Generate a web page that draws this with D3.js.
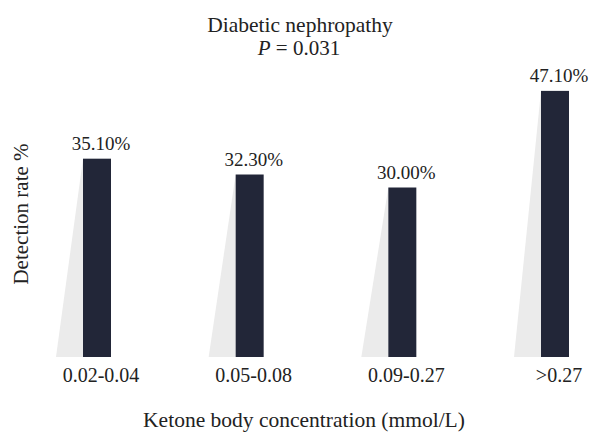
<!DOCTYPE html>
<html>
<head>
<meta charset="utf-8">
<script src="https://cdn.jsdelivr.net/npm/d3@7"></script>
<style>
  body { margin: 0; background: #fff; }
  text { font-family: "Liberation Serif", "Times New Roman", serif; fill: #222; }
</style>
</head>
<body>
<div id="chart"></div>
<script>
const categories = ["0.02-0.04", "0.05-0.08", "0.09-0.27", ">0.27"]
const rates = [35.1, 32.3, 30.0, 47.1]
const labels = ["35.10%", "32.30%", "30.00%", "47.10%"]

const width = 591
const height = 434
const base = 357

const svg = d3.select("#chart")
    .append("svg")
    .attr("width", width)
    .attr("height", height)

const x = d3.scalePoint()
    .domain(categories)
    .range([97, 555])

const y = d3.scaleLinear()
    .domain([0, 50])
    .range([base, base - 50 * 5.65])

const barW = 28
const shadowW = 27

// light grey wedge on the left of each bar
svg.selectAll("path.shadow")
    .data(categories)
    .join("path")
    .attr("class", "shadow")
    .attr("fill", "#ebebeb")
    .attr("d", (d, i) => {
        const left = x(d) - barW / 2
        return `M${left},${y(rates[i])}L${left},${base}L${left - shadowW},${base}Z`
    })

svg.selectAll("rect.bar")
    .data(categories)
    .join("rect")
    .attr("class", "bar")
    .attr("x", d => x(d) - barW / 2)
    .attr("y", (d, i) => y(rates[i]))
    .attr("width", barW)
    .attr("height", (d, i) => base - y(rates[i]))
    .attr("fill", "#222638")

svg.selectAll("text.val")
    .data(categories)
    .join("text")
    .attr("class", "val")
    .attr("x", d => x(d) + 4)
    .attr("y", (d, i) => y(rates[i]) - 9)
    .attr("text-anchor", "middle")
    .style("font-size", "19px")
    .text((d, i) => labels[i])

svg.selectAll("text.cat")
    .data(categories)
    .join("text")
    .attr("class", "cat")
    .attr("x", d => x(d) + 4)
    .attr("y", 382)
    .attr("text-anchor", "middle")
    .style("font-size", "20px")
    .text(d => d)

svg.append("text")
    .attr("x", 300)
    .attr("y", 32)
    .attr("text-anchor", "middle")
    .style("font-size", "21.5px")
    .text("Diabetic nephropathy")

const p = svg.append("text")
    .attr("x", 299)
    .attr("y", 55)
    .attr("text-anchor", "middle")
    .style("font-size", "21px")
p.append("tspan").style("font-style", "italic").text("P")
p.append("tspan").text(" = 0.031")

svg.append("text")
    .attr("transform", "translate(28,214) rotate(-90)")
    .attr("text-anchor", "middle")
    .style("font-size", "21px")
    .text("Detection rate %")

svg.append("text")
    .attr("x", 304)
    .attr("y", 427)
    .attr("text-anchor", "middle")
    .style("font-size", "21.5px")
    .text("Ketone body concentration (mmol/L)")
</script>
</body>
</html>
